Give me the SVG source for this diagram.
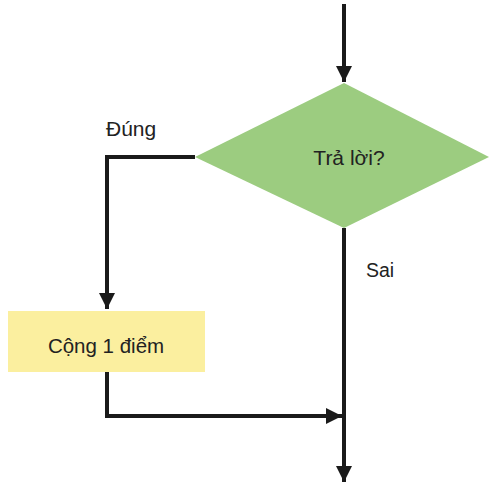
<svg xmlns="http://www.w3.org/2000/svg" width="489" height="488" viewBox="0 0 489 488">
<style>
.ln{fill:none;stroke:#1a1a1a;stroke-width:4;stroke-linejoin:miter}
.t{font-family:"Liberation Sans",Arial,sans-serif;fill:#222}
</style>
<defs>
<marker id="ar" viewBox="0 0 10 10" refX="10" refY="5" markerWidth="4.2" markerHeight="4" markerUnits="strokeWidth" orient="auto">
<path d="M0,0 L10,5 L0,10 Z" fill="#1a1a1a"/>
</marker>
</defs>
<rect width="489" height="488" fill="#fff"/>
<g id="decision">
<polygon points="344,83 489,157 344,228 195,157" fill="#9ccc80"/>
<text class="t" x="349" y="165" font-size="21" text-anchor="middle">Trả lời?</text>
</g>
<g id="add-point">
<rect x="8" y="311" width="197" height="61" fill="#fbef9f"/>
<text class="t" x="106" y="353" font-size="20.5" text-anchor="middle">Cộng 1 điểm</text>
</g>
<g id="connectors">
<path class="ln" d="M344,4 V82" marker-end="url(#ar)"/>
<path class="ln" d="M195,157 H107 V309" marker-end="url(#ar)"/>
<path class="ln" d="M107,372 V416 H342" marker-end="url(#ar)"/>
<path class="ln" d="M344,228 V482" marker-end="url(#ar)"/>
</g>
<g id="labels">
<text class="t" x="106" y="136" font-size="21">Đúng</text>
<text class="t" x="366" y="277" font-size="19.5">Sai</text>
</g>
</svg>
